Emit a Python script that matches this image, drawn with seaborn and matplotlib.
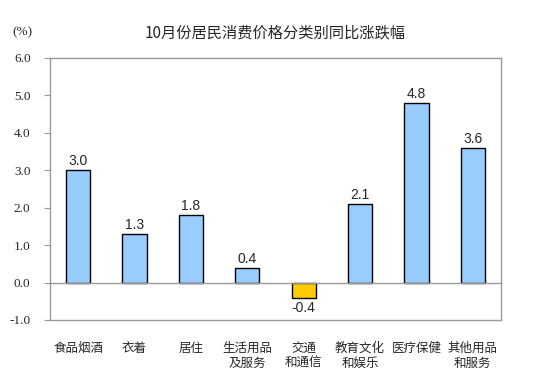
import matplotlib
matplotlib.use('Agg')
import matplotlib.pyplot as plt
import seaborn as sns
import pandas as pd

# Data
categories = ['食品烟酒', '衣着', '居住', '生活用品\n及服务', '交通\n和通信',
              '教育文化\n和娱乐', '医疗保健', '其他用品\n和服务']
values = [3.0, 1.3, 1.8, 0.4, -0.4, 2.1, 4.8, 3.6]
y_ticks = [-1.0, 0.0, 1.0, 2.0, 3.0, 4.0, 5.0, 6.0]

sns.set_style('white')
plt.rcParams['font.family'] = ['Noto Sans CJK SC', 'DejaVu Sans']

df = pd.DataFrame({'cat': categories, 'val': values})
colors = ['#FFCC00' if v < 0 else '#99CCFF' for v in values]

fig = plt.figure(figsize=(5.53, 3.84), dpi=100)
ax = fig.add_axes([0.0904, 0.1667, 0.8156, 0.6823])

sns.barplot(data=df, x='cat', y='val', hue='cat', palette=colors, legend=False,
            width=0.43, edgecolor='black', linewidth=1.0, saturation=1, ax=ax)

ax.set_xlim(-0.5, len(categories) - 0.5)
ax.set_ylim(-1.0, 6.0)
ax.set_yticks(y_ticks)
ax.set_yticklabels([f'{t:.1f}' for t in y_ticks], family='Liberation Serif', fontsize=9.5)
ax.axhline(0, color='#999999', linewidth=1.0, zorder=1)

for s in ax.spines.values():
    s.set_color('#999999')
    s.set_linewidth(1.0)

ax.tick_params(axis='y', which='both', left=True, length=4, color='#999999', pad=10)
ax.tick_params(axis='x', bottom=False, pad=12, labelsize=9)
ax.set_xlabel('')
ax.set_ylabel('')

for i, v in enumerate(values):
    if v >= 0:
        ax.text(i, v + 0.05, f'{v:.1f}', ha='center', va='bottom',
                family='Liberation Sans', fontsize=10)
    else:
        ax.text(i, v - 0.08, f'{v:.1f}', ha='center', va='top',
                family='Liberation Sans', fontsize=10)

fig.text(0.497, 0.915, '10月份居民消费价格分类别同比涨跌幅', ha='center', va='center',
         fontsize=11, fontweight='medium')
fig.text(0.04, 0.915, '(%)', ha='center', va='center', family='Liberation Serif', fontsize=9.5)

fig.savefig('out.png', dpi=100)
